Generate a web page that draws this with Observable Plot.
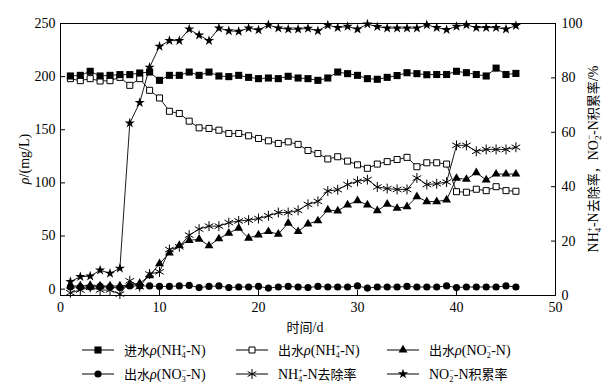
<!DOCTYPE html>
<html><head><meta charset="utf-8">
<script src="https://cdn.jsdelivr.net/npm/d3@7"></script>
<script src="https://cdn.jsdelivr.net/npm/@observablehq/plot@0.6"></script>
<style>
body{margin:0;background:#fff;}
#chart{position:relative;width:615px;height:385px;font-family:"Liberation Serif","Noto Sans CJK SC",serif;color:#000;}
#legend{position:absolute;left:0;top:335px;width:615px;height:50px;font-size:14px;}
.item{position:absolute;height:20px;line-height:20px;white-space:nowrap;}
.item svg{position:absolute;left:0;top:3px;}
.item .lab{position:absolute;top:0;}
.cjk{font-family:"Noto Sans CJK SC",sans-serif;font-size:13px;}
.st{display:inline-block;vertical-align:-3px;line-height:9.5px;font-size:8px;text-align:left;}
</style></head>
<body><div id="chart"></div>
<script>
// ---------------- data ----------------
const days = [1,2,3,4,5,6,7,8,9,10,11,12,13,14,15,16,17,18,19,20,21,22,23,24,25,26,27,28,29,30,31,32,33,34,35,36,37,38,39,40,41,42,43,44,45,46];
// 进水ρ(NH4+-N), mg/L
const inflNH4 = [200.6,201.2,205,200.6,201.2,201.9,201.9,203.4,204.3,196.5,201.2,201.2,204.3,201.2,204.3,200.6,200,201.2,199.3,198.1,198.7,198.1,200.3,198.7,198.1,196.5,198.7,204.3,202.8,201.2,198.1,197.5,199.3,201,203.7,202.8,201.8,202,202,205,203.7,202,200.6,208,202,203];
// 出水ρ(NH4+-N), mg/L
const efflNH4 = [198.1,196.2,198.1,195.9,196.2,199.3,191.8,198.1,187.1,179.9,167.4,165.3,158.1,151.8,151.2,149.6,146.5,146.5,144.3,141.8,139.6,137.1,138.6,136.2,130.5,127.6,122.5,124.6,120.5,117,113.7,117.7,120,122,124,115.2,118.9,118.9,117.7,91.7,91.2,94,92.7,96.4,92.7,92.1];
// 出水ρ(NO2−-N), mg/L
const efflNO2 = [3,3,3.5,3,3,3,4,5.5,12.7,23.9,34,41.1,45.8,47.1,40.8,47.4,52.7,57.4,48,51.1,54.2,51.8,62.1,54.2,61.4,64.3,74.6,73.6,79.3,83.3,79.3,73.9,80,76.1,77.7,87,82.4,82.4,84,104.3,103.4,109.6,102.7,108.3,108.3,108.3];
// 出水ρ(NO3−-N), mg/L
const efflNO3 = [2,2,2,2.5,2,1.5,3,3,3,2.5,2.5,3,3.5,1.5,2.5,3,1.5,2,2,2.5,1,2,2.5,2,1.5,2.5,2,2,2,3,1,2,2,2,2.5,2,2,2,3,1.5,2,2,2,2,3,2];
// NH4+-N去除率, %
const removal = [1,2,3,2,2,0.5,5.4,3.2,7.9,8.7,16.9,17.9,22.2,24.4,25.5,25.5,26.8,27.4,27.7,28.3,29.3,30.5,30.5,31.3,33.5,34.6,38.4,38.9,40.8,42,42.6,39.9,39.3,39,39,43.2,40.8,41.1,41.7,55.2,55.2,53,53.7,53.7,53.7,54.5];
// NO2−-N积累率, %
const accum = [5.1,6.9,7.1,9.3,8.1,10,63.4,70.9,83.9,91.6,93.7,93.7,97.9,95.7,93.7,98.3,97.3,97.1,98.3,97.6,99.5,98.3,97.9,97.9,98.2,97.3,99.4,98.5,98.9,97.9,99.8,98.8,98.3,98.3,98.3,98.3,99.5,98.5,97.7,98.9,99.5,98.5,98.5,98.5,97.9,99.2];
const xTicks = [0,10,20,30,40,50];
const yTicks = [0,50,100,150,200,250];
const pctTicks = [0,20,40,60,80,100];

// right axis (0–100 %) shares the frame with left axis (−6–250 mg/L)
const Y0 = -6, Y1 = 250;
const yR = p => Y0 + p * (Y1 - Y0) / 100;
const pFromY = v => Math.round((v - Y0) * 100 / (Y1 - Y0));

const rows = days.map((d, i) => ({d, infl: inflNH4[i], effl: efflNH4[i], no2: efflNO2[i], no3: efflNO3[i], rem: yR(removal[i]), acc: yR(accum[i])}));

const ln = key => Plot.line(rows, {x: "d", y: key, stroke: "black", strokeWidth: 0.9});
const chart = Plot.plot({
  width: 615, height: 335,
  marginLeft: 60, marginRight: 60, marginTop: 23, marginBottom: 40,
  style: {fontFamily: "Liberation Serif, serif", fontSize: "14px", color: "black", background: "white"},
  x: {domain: [0, 50]},
  y: {domain: [Y0, Y1]},
  marks: [
    Plot.frame({stroke: "black", strokeWidth: 1}),
    Plot.axisX({ticks: xTicks, tickSize: -5, tickPadding: 12, label: null}),
    Plot.axisY({ticks: yTicks, tickSize: -5, tickPadding: 10, label: null}),
    Plot.axisY({anchor: "right", ticks: pctTicks.map(yR), tickFormat: pFromY, tickSize: -5, tickPadding: 11, label: null}),
    ln("infl"), ln("effl"), ln("no2"), ln("no3"), ln("rem"), ln("acc"),
    Plot.dot(rows, {x: "d", y: "no3", symbol: "circle", fill: "black", r: 3.6}),
    Plot.dot(rows, {x: "d", y: "no2", symbol: "triangle", fill: "black", r: 3.3}),
    Plot.dot(rows, {x: "d", y: "rem", symbol: "asterisk", stroke: "black", strokeWidth: 1, r: 4.7}),
    Plot.dot(rows, {x: "d", y: "effl", symbol: "square", fill: "white", stroke: "black", strokeWidth: 1, r: 3.4}),
    Plot.dot(rows, {x: "d", y: "infl", symbol: "square", fill: "black", r: 4}),
    Plot.dot(rows, {x: "d", y: "acc", symbol: "star", fill: "black", r: 3.2})
  ]
});
document.getElementById("chart").appendChild(chart);

// axis titles
const svg = d3.select(chart);
const lt = svg.append("text").attr("transform", "translate(24,159) rotate(-90)")
  .attr("text-anchor", "middle").attr("dy", "0.35em").attr("font-size", 14).attr("fill", "black");
lt.append("tspan").attr("font-style", "italic").text("ρ");
lt.append("tspan").text("/(mg/L)");

const xt = svg.append("text").attr("x", 305).attr("y", 327).attr("dy", "0.35em")
  .attr("text-anchor", "middle").attr("fill", "black");
xt.append("tspan").attr("font-family", "Noto Sans CJK SC").attr("font-size", 13).text("时间");
xt.append("tspan").attr("font-size", 14).text("/d");

const rt = svg.append("text").attr("transform", "translate(593,159) rotate(-90)")
  .attr("text-anchor", "middle").attr("dy", "0.35em").attr("font-size", 14).attr("fill", "black");
const cj = s => rt.append("tspan").attr("font-family", "Noto Sans CJK SC").attr("font-size", 13).text(s);
rt.append("tspan").text("NH");
rt.append("tspan").attr("font-size", 9).attr("dy", 3).text("4");
rt.append("tspan").attr("font-size", 9).attr("dx", -4.5).attr("dy", -9).text("+");
rt.append("tspan").attr("dy", 6).text("-N");
cj("去除率，");
rt.append("tspan").text("NO");
rt.append("tspan").attr("font-size", 9).attr("dy", 3).text("2");
rt.append("tspan").attr("font-size", 9).attr("dx", -4.5).attr("dy", -9).text("−");
rt.append("tspan").attr("dy", 6).text("-N");
cj("积累率");
rt.append("tspan").text("/%");

// legend
const legend = d3.select("#chart").append("div").attr("id", "legend");
const nh4 = '(NH<span class="st">+<br>4</span>-N)';
const items = [
  {col: 0, row: 0, sym: d3.symbolSquare, r: 4, fill: "black", stroke: "none", html: '<span class="cjk">进水</span><i>ρ</i>' + nh4},
  {col: 1, row: 0, sym: d3.symbolSquare, r: 3.4, fill: "white", stroke: "black", html: '<span class="cjk">出水</span><i>ρ</i>' + nh4},
  {col: 2, row: 0, sym: d3.symbolTriangle, r: 3.3, fill: "black", stroke: "none", html: '<span class="cjk">出水</span><i>ρ</i>(NO<span class="st">−<br>2</span>-N)'},
  {col: 0, row: 1, sym: d3.symbolCircle, r: 3.6, fill: "black", stroke: "none", html: '<span class="cjk">出水</span><i>ρ</i>(NO<span class="st">−<br>3</span>-N)'},
  {col: 1, row: 1, sym: d3.symbolAsterisk, r: 4.7, fill: "none", stroke: "black", html: 'NH<span class="st">+<br>4</span>-N<span class="cjk">去除率</span>'},
  {col: 2, row: 1, sym: d3.symbolStar, r: 3.2, fill: "black", stroke: "none", html: 'NO<span class="st">−<br>2</span>-N<span class="cjk">积累率</span>'}
];
const colX = [82, 236, 387];
const rowY = [5, 29];
items.forEach(it => {
  const div = legend.append("div").attr("class", "item").style("left", colX[it.col] + "px").style("top", rowY[it.row] + "px");
  const s = div.append("svg").attr("width", 34).attr("height", 14);
  s.append("line").attr("x1", 0).attr("x2", 32).attr("y1", 7).attr("y2", 7).attr("stroke", "black").attr("stroke-width", 1);
  s.append("path").attr("transform", "translate(16,7)")
    .attr("d", d3.symbol(it.sym, Math.PI * it.r * it.r)())
    .attr("fill", it.fill).attr("stroke", it.stroke).attr("stroke-width", 1);
  div.append("span").attr("class", "lab").style("left", "42px").html(it.html);
});
</script>
</body></html>
